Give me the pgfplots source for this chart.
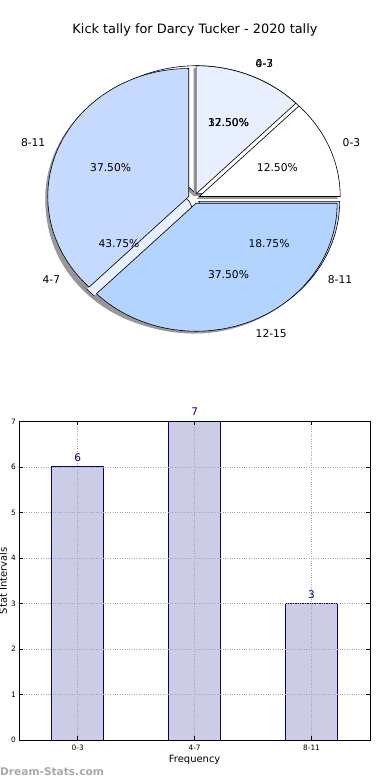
\documentclass[border=0pt]{standalone}
\usepackage{pgfplots}
\pgfplotsset{compat=1.18}
\usepackage{fontspec}
\setmainfont{DejaVu Sans}
\definecolor{pieL}{HTML}{E8F0FF}
\definecolor{pieM}{HTML}{C6D9FF}
\definecolor{pieB}{HTML}{B3D4FF}
\definecolor{barfill}{HTML}{CCCCE5}
\definecolor{navy}{HTML}{000080}
\definecolor{wm}{HTML}{A8A8A8}
\tikzset{pielbl/.style={font=\fontsize{10.7bp}{12bp}\selectfont, inner sep=0pt}}
% #1 list value/color, #2 total, #3 explode, #4 style, #5 dx, #6 dy
\newcommand\drawpie[6]{%
  \gdef\cum{0}%
  \foreach \v/\col in {#1} {%
    \pgfmathsetmacro\sa{\cum*360/#2}%
    \pgfmathsetmacro\ea{(\cum+\v)*360/#2}%
    \pgfmathsetmacro\ma{(\sa+\ea)/2}%
    \pgfmathsetmacro\pcx{#3*cos(\ma)+#5}%
    \pgfmathsetmacro\pcy{#3*sin(\ma)+#6}%
    \pgfmathsetmacro\ppx{\pcx+cos(\sa)}%
    \pgfmathsetmacro\ppy{\pcy+sin(\sa)}%
    \edef\temp{\noexpand\path[#4,fill=\col] (axis cs:\pcx,\pcy) -- (axis cs:\ppx,\ppy) arc[start angle=\sa,end angle=\ea,x radius=141bp,y radius=128bp] -- cycle;}%
    \temp
    \pgfmathsetmacro\newcum{\cum+\v}\xdef\cum{\newcum}%
  }%
}
% #1 list value/name, #2 total, #3 explode
\newcommand\pielabels[3]{%
  \gdef\cum{0}%
  \foreach \v/\nm in {#1} {%
    \pgfmathsetmacro\ma{(\cum+\v/2)*360/#2}%
    \pgfmathsetmacro\pcx{#3*cos(\ma)}%
    \pgfmathsetmacro\pcy{#3*sin(\ma)}%
    \pgfmathsetmacro\lx{\pcx+1.1*cos(\ma)}%
    \pgfmathsetmacro\ly{\pcy+1.1*sin(\ma)}%
    \pgfmathsetmacro\tx{\pcx+0.6*cos(\ma)}%
    \pgfmathsetmacro\ty{\pcy+0.6*sin(\ma)}%
    \pgfmathsetmacro\pct{100*\v/#2}%
    \pgfmathparse{cos(\ma)>0 ? "west" : "east"}\let\anc\pgfmathresult
    \edef\temp{\noexpand\node[pielbl,anchor=\anc] at (axis cs:\lx,\ly) {\nm};
      \noexpand\node[pielbl,anchor=center] at (axis cs:\tx,\ty) {\noexpand\pgfmathprintnumber[fixed,fixed zerofill,precision=2,assume math mode=true]{\pct}\noexpand\%};}%
    \temp
    \pgfmathsetmacro\newcum{\cum+\v}\xdef\cum{\newcum}%
  }%
}
\begin{document}
\begin{tikzpicture}
\path[use as bounding box] (0,0) rectangle (390bp,780bp);
\node[font=\fontsize{12.9bp}{15bp}\selectfont] at (195bp,750bp) {Kick tally for Darcy Tucker - 2020 tally};

% ---------- pie ----------
\begin{axis}[at={(194bp,581.5bp)}, anchor=center, scale only axis,
  width=366.6bp, height=332.8bp, xmin=-1.3, xmax=1.3, ymin=-1.3, ymax=1.3,
  hide axis, clip=false]
  % pie B (underneath): 0-3:6, 4-7:7, 8-11:3
  \drawpie{6/black!40,7/black!40,3/black!40}{16}{0.04}{draw=none}{-0.018}{-0.018}
  \drawpie{6/white,7/pieL,3/pieM}{16}{0.04}{draw=black,line width=0.6bp}{0}{0}
  % pie A (on top): 0-3:2, 4-7:2, 8-11:6, 12-15:6
  \drawpie{2/black!40,2/black!40,6/black!40,6/black!40}{16}{0.04}{draw=none}{-0.018}{-0.018}
  \drawpie{2/white,2/pieL,6/pieM,6/pieB}{16}{0.04}{draw=black,line width=0.6bp}{0}{0}
  \pielabels{2/0-3,2/4-7,6/8-11,6/12-15}{16}{0.04}
  \pielabels{6/0-3,7/4-7,3/8-11}{16}{0.04}
\end{axis}

% ---------- bar chart ----------
\begin{axis}[at={(19.3bp,39.7bp)}, anchor=south west, scale only axis,
  width=350.7bp, height=319bp,
  xmin=-0.5, xmax=2.5, ymin=0, ymax=7,
  xtick={0,1,2}, xticklabels={0-3,4-7,8-11}, ytick={0,1,2,3,4,5,6,7},
  tick align=inside, xtick pos=both, ytick pos=both, major tick length=4bp,
  grid=major, grid style={dotted, black!35, line width=0.7bp},
  axis on top, clip=false,
  axis line style={line width=0.8bp}, every tick/.style={black, line width=0.6bp},
  tick label style={font=\fontsize{7.4bp}{8bp}\selectfont},
  /pgf/number format/assume math mode=true,
  xticklabel style={yshift=-1bp},
  xlabel={Frequency}, ylabel={Stat Intervals},
  label style={font=\fontsize{10.5bp}{12bp}\selectfont},
  every axis x label/.style={at={(axis description cs:0.5,0)}, anchor=center, yshift=-20bp},
  every axis y label/.style={at={(axis description cs:-0.046,0.5)}, rotate=90, anchor=center},
]
\addplot[ybar, bar width=0.446, fill=barfill, draw=navy, line width=0.8bp,
  nodes near coords,
  every node near coord/.append style={font=\fontsize{10.5bp}{12bp}\selectfont, color=navy, inner sep=0pt, yshift=5bp}]
  coordinates {(0,6) (1,7) (2,3)};
\end{axis}

\node[anchor=west, inner sep=0pt, text=wm, font=\fontsize{10.6bp}{12bp}\selectfont\bfseries] at (0bp,8bp) {Dream-Stats.com};
\end{tikzpicture}
\end{document}
